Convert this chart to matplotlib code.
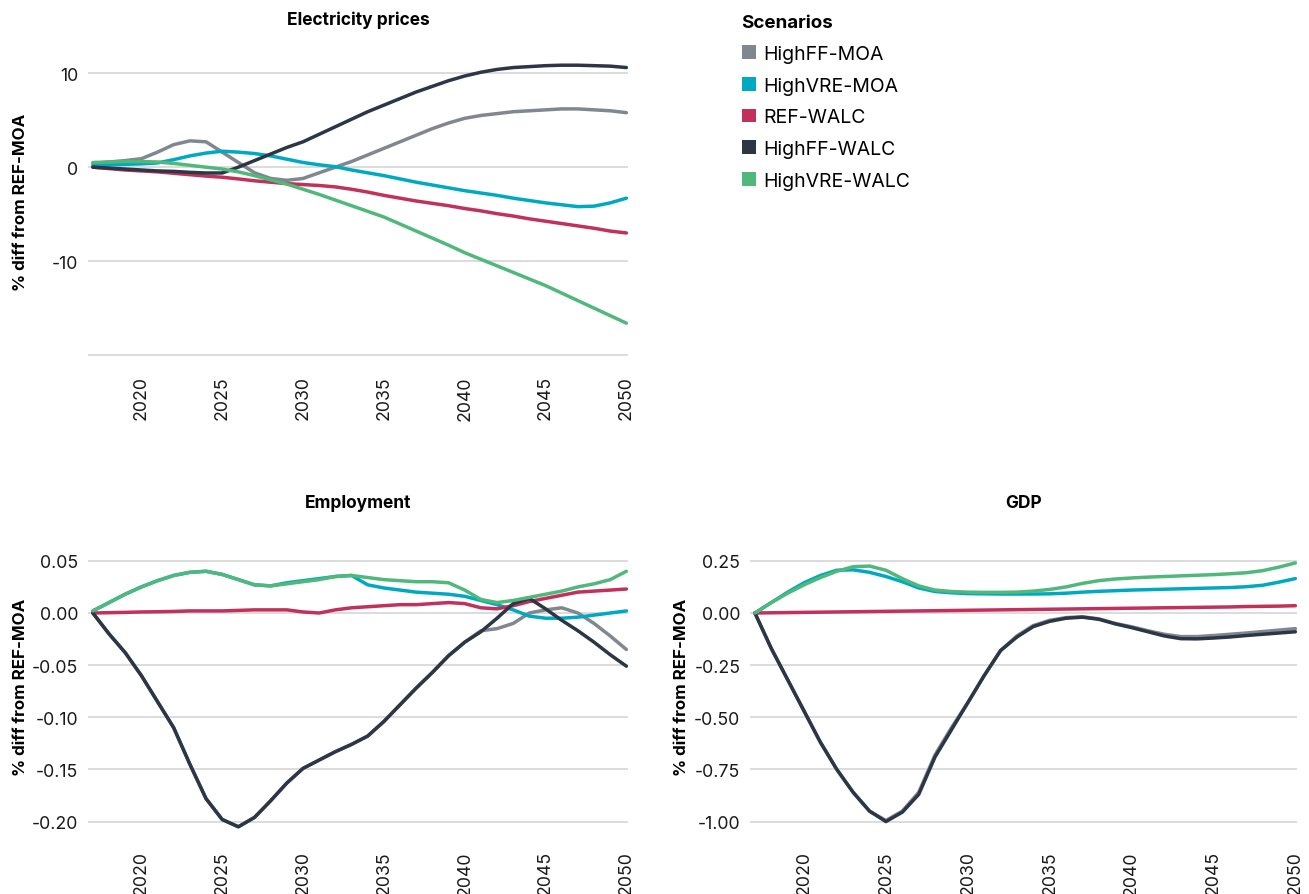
import matplotlib
matplotlib.use("Agg")
import matplotlib.pyplot as plt
from matplotlib.patches import Patch

plt.rcParams['font.family'] = ['Inter', 'DejaVu Sans']

years = list(range(2017, 2051))

scenarios = ['HighFF-MOA', 'HighVRE-MOA', 'REF-WALC', 'HighFF-WALC', 'HighVRE-WALC']
colors = ['#80878f', '#00a9c2', '#c1315b', '#2b3646', '#50b87b']

# % difference from REF-MOA, one value per year 2017..2050
elec_highff_moa = [0.4, 0.55, 0.7, 0.9, 1.6, 2.4, 2.8, 2.7, 1.6, 0.5, -0.6, -1.2, -1.4, -1.2,
                   -0.6, 0.0, 0.6, 1.3, 2.0, 2.7, 3.4, 4.1, 4.7, 5.2, 5.5, 5.7, 5.9, 6.0,
                   6.1, 6.2, 6.2, 6.1, 6.0, 5.8]
elec_highvre_moa = [0.2, 0.25, 0.3, 0.35, 0.45, 0.8, 1.2, 1.5, 1.7, 1.6, 1.45, 1.2, 0.85, 0.5,
                    0.25, 0.05, -0.3, -0.6, -0.9, -1.25, -1.6, -1.9, -2.2, -2.5, -2.75, -3.0,
                    -3.3, -3.55, -3.8, -4.0, -4.2, -4.15, -3.8, -3.3]
elec_ref_walc = [0.0, -0.15, -0.3, -0.4, -0.5, -0.65, -0.8, -0.95, -1.07, -1.25, -1.45, -1.6,
                 -1.75, -1.85, -1.95, -2.1, -2.35, -2.65, -3.0, -3.3, -3.6, -3.85, -4.1, -4.4,
                 -4.65, -4.95, -5.2, -5.5, -5.75, -6.0, -6.25, -6.5, -6.8, -7.0]
elec_highff_walc = [0.0, -0.1, -0.2, -0.3, -0.4, -0.45, -0.55, -0.62, -0.62, 0.0, 0.7, 1.4,
                    2.1, 2.7, 3.5, 4.3, 5.1, 5.9, 6.6, 7.3, 8.0, 8.6, 9.2, 9.7, 10.1, 10.4,
                    10.6, 10.7, 10.8, 10.85, 10.85, 10.8, 10.75, 10.6]
elec_highvre_walc = [0.5, 0.55, 0.6, 0.6, 0.55, 0.4, 0.2, 0.0, -0.2, -0.5, -0.9, -1.35, -1.8,
                     -2.35, -2.9, -3.5, -4.1, -4.7, -5.3, -6.05, -6.8, -7.55, -8.3, -9.1, -9.8,
                     -10.5, -11.2, -11.9, -12.6, -13.4, -14.2, -15.0, -15.8, -16.6]

emp_highff_moa = [0.0, -0.02, -0.038, -0.06, -0.085, -0.11, -0.145, -0.178, -0.198, -0.205,
                  -0.196, -0.18, -0.163, -0.149, -0.141, -0.133, -0.126, -0.118, -0.104,
                  -0.088, -0.072, -0.057, -0.041, -0.028, -0.017, -0.015, -0.01, 0.0, 0.003,
                  0.005, 0.0, -0.01, -0.022, -0.035]
emp_highvre_moa = [0.002, 0.01, 0.018, 0.025, 0.031, 0.036, 0.039, 0.04, 0.037, 0.032, 0.027,
                   0.026, 0.029, 0.031, 0.033, 0.035, 0.036, 0.027, 0.024, 0.022, 0.02, 0.019,
                   0.018, 0.016, 0.012, 0.008, 0.003, -0.003, -0.005, -0.005, -0.004, -0.002,
                   0.0, 0.002]
emp_ref_walc = [0.0, 0.0003, 0.0006, 0.001, 0.0012, 0.0015, 0.002, 0.002, 0.002, 0.0025, 0.003,
                0.003, 0.003, 0.001, 0.0, 0.003, 0.005, 0.006, 0.007, 0.008, 0.008, 0.009,
                0.01, 0.009, 0.005, 0.004, 0.007, 0.011, 0.014, 0.017, 0.02, 0.021, 0.022,
                0.023]
emp_highff_walc = [0.0, -0.02, -0.038, -0.06, -0.085, -0.11, -0.145, -0.178, -0.198, -0.205,
                   -0.196, -0.18, -0.163, -0.149, -0.141, -0.133, -0.126, -0.118, -0.104,
                   -0.088, -0.072, -0.057, -0.041, -0.028, -0.018, -0.005, 0.009, 0.014,
                   0.004, -0.007, -0.017, -0.028, -0.04, -0.051]
emp_highvre_walc = [0.002, 0.01, 0.018, 0.025, 0.031, 0.036, 0.039, 0.04, 0.037, 0.032, 0.027,
                    0.026, 0.028, 0.03, 0.032, 0.035, 0.036, 0.034, 0.032, 0.031, 0.03, 0.03,
                    0.029, 0.022, 0.013, 0.01, 0.012, 0.015, 0.018, 0.021, 0.025, 0.028,
                    0.032, 0.04]

gdp_highff_moa = [0.0, -0.17, -0.32, -0.47, -0.62, -0.75, -0.86, -0.95, -0.995, -0.95, -0.86,
                  -0.68, -0.55, -0.43, -0.3, -0.18, -0.11, -0.06, -0.035, -0.022, -0.018,
                  -0.028, -0.05, -0.066, -0.085, -0.102, -0.113, -0.113, -0.108, -0.102,
                  -0.096, -0.089, -0.082, -0.075]
gdp_highvre_moa = [0.0, 0.05, 0.1, 0.145, 0.18, 0.205, 0.207, 0.195, 0.175, 0.15, 0.12, 0.103,
                   0.097, 0.093, 0.092, 0.091, 0.091, 0.091, 0.092, 0.095, 0.1, 0.104, 0.107,
                   0.11, 0.112, 0.114, 0.116, 0.118, 0.12, 0.122, 0.126, 0.133, 0.148, 0.165]
gdp_ref_walc = [0.0, 0.001, 0.002, 0.003, 0.004, 0.005, 0.006, 0.007, 0.008, 0.009, 0.01, 0.011,
                0.012, 0.013, 0.014, 0.015, 0.016, 0.017, 0.018, 0.019, 0.02, 0.021, 0.022,
                0.023, 0.024, 0.025, 0.026, 0.027, 0.028, 0.029, 0.031, 0.032, 0.033, 0.035]
gdp_highff_walc = [0.0, -0.17, -0.32, -0.47, -0.62, -0.75, -0.86, -0.95, -1.0, -0.955, -0.87,
                   -0.69, -0.56, -0.43, -0.3, -0.18, -0.115, -0.065, -0.04, -0.025, -0.02,
                   -0.03, -0.052, -0.07, -0.09, -0.11, -0.123, -0.124, -0.12, -0.115, -0.108,
                   -0.102, -0.096, -0.09]
gdp_highvre_walc = [0.0, 0.05, 0.095, 0.135, 0.17, 0.2, 0.222, 0.225, 0.205, 0.165, 0.13, 0.11,
                    0.103, 0.1, 0.099, 0.099, 0.1, 0.105, 0.113, 0.125, 0.142, 0.155, 0.163,
                    0.168, 0.172, 0.175, 0.178, 0.181, 0.184, 0.188, 0.193, 0.203, 0.22, 0.24]

electricity = [elec_highff_moa, elec_highvre_moa, elec_ref_walc, elec_highff_walc, elec_highvre_walc]
employment = [emp_highff_moa, emp_highvre_moa, emp_ref_walc, emp_highff_walc, emp_highvre_walc]
gdp = [gdp_highff_moa, gdp_highvre_moa, gdp_ref_walc, gdp_highff_walc, gdp_highvre_walc]

x_ticks = [2020, 2025, 2030, 2035, 2040, 2045, 2050]
elec_ticks = [-20, -10, 0, 10]
elec_tick_labels = ['', '-10', '0', '10']
emp_ticks = [-0.20, -0.15, -0.10, -0.05, 0.00, 0.05]
gdp_ticks = [-1.00, -0.75, -0.50, -0.25, 0.00, 0.25]

W, H = 1309, 895
fig = plt.figure(figsize=(W / 100, H / 100), dpi=100)


def px_axes(left, top, right, bottom):
    return fig.add_axes([left / W, 1 - bottom / H, (right - left) / W, (bottom - top) / H])


def style(ax, series, title, title_y, ylim, yticks, ylabels):
    for s, c in zip(series, colors):
        ax.plot(years, s, color=c, lw=2.5, solid_capstyle='round',
                solid_joinstyle='round', zorder=3)
    ax.set_xlim(2016.7, 2050.1)
    ax.set_ylim(*ylim)
    ax.set_xticks(x_ticks)
    ax.set_xticklabels([str(t) for t in x_ticks], rotation=90)
    ax.set_yticks(yticks)
    ax.set_yticklabels(ylabels)
    ax.grid(axis='y', color='#d9d9d9', lw=1.3, zorder=0)
    for sp in ax.spines.values():
        sp.set_visible(False)
    ax.tick_params(axis='both', length=0, labelsize=12.8, colors='#1a1a1a')
    ax.tick_params(axis='x', pad=13)
    ax.tick_params(axis='y', pad=7)
    ax.set_ylabel('% diff from REF-MOA', fontsize=12.2, fontweight='bold')
    ax.yaxis.set_label_coords(-0.112, 0.5)
    bb = ax.get_position()
    fig.text(bb.x0 + bb.width / 2, 1 - title_y / H, title, ha='center', va='center',
             fontsize=12.5, fontweight='bold')


ax1 = px_axes(88, 46, 628, 358)
style(ax1, electricity, 'Electricity prices', 20, (-20.2, 13), elec_ticks, elec_tick_labels)

ax2 = px_axes(88, 541, 628, 833)
style(ax2, employment, 'Employment', 504, (-0.21, 0.07), emp_ticks,
      [f'{t:.2f}' for t in emp_ticks])

ax3 = px_axes(750, 541, 1297, 833)
style(ax3, gdp, 'GDP', 504, (-1.05, 0.35), gdp_ticks, [f'{t:.2f}' for t in gdp_ticks])

handles = [Patch(facecolor=c, edgecolor='none', label=s) for s, c in zip(scenarios, colors)]
leg = fig.legend(handles=handles, title='Scenarios', loc='upper left',
                 bbox_to_anchor=(724 / W, 1 + 2 / H), frameon=False, fontsize=14,
                 title_fontsize=13.5, handlelength=0.72, handleheight=0.72,
                 handletextpad=0.4, labelspacing=0.7, alignment='left')
leg.get_title().set_fontweight('bold')

fig.savefig('out.png', dpi=100)
